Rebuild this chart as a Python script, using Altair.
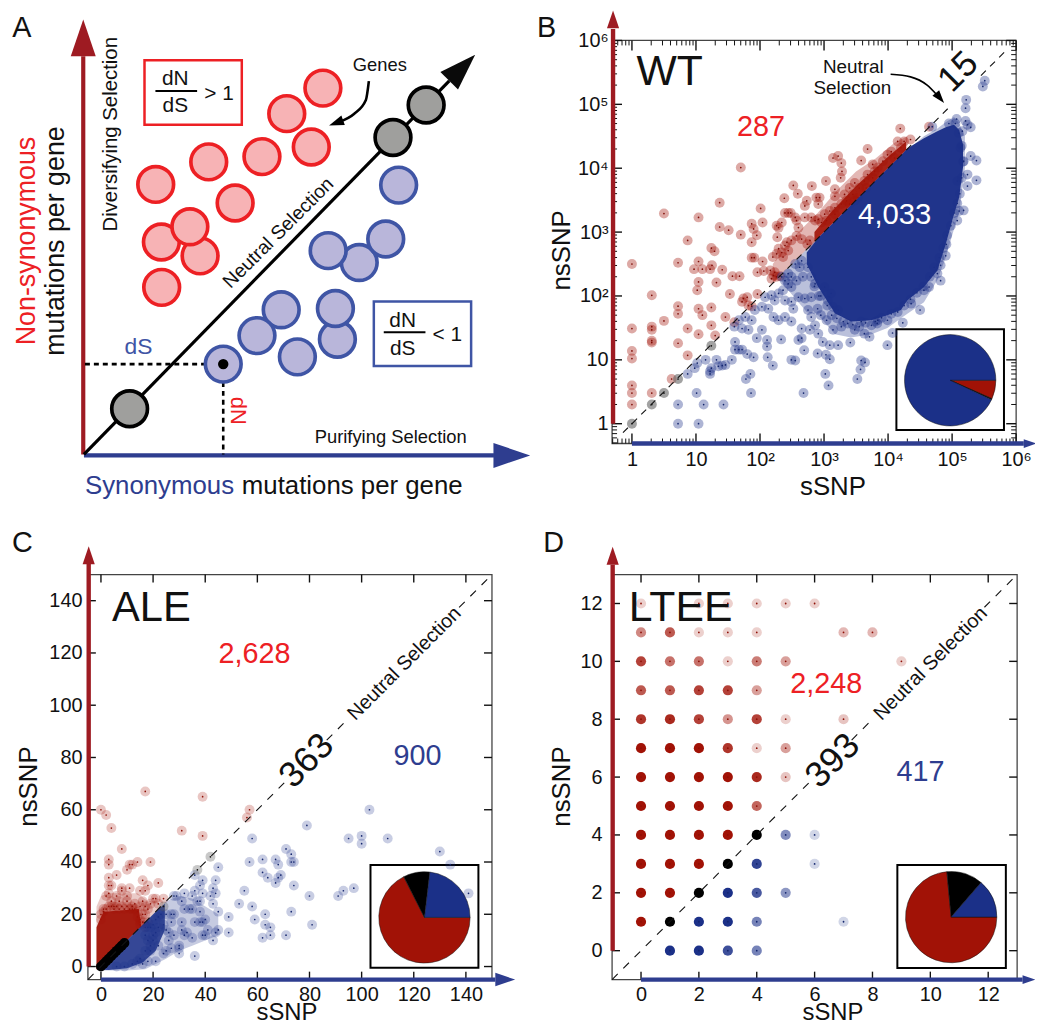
import math
import altair as alt
import pandas as pd

FONT = "Liberation Sans"
DARK_RED, DARK_BLUE = "#A11206", "#1B3088"
AXIS_RED, AXIS_BLUE = "#9E1B22", "#2E3D8F"
TXT_RED, TXT_BLUE = "#ED2024", "#2E3D8F"
HEAD = "M0,-1L-0.68,1L0.68,1Z"

# ---- Panel A: schematic positions
a_red_genes = [(324.7, 86), (288.3, 111.7), (313, 145.3), (263.3, 155), (209.7, 160.3), (156.3, 183),
               (236.3, 201.7), (201, 255), (162, 241), (190.7, 225.7), (162.3, 286.7)]
a_blue_genes = [(401, 183.7), (361.3, 261.7), (388, 238), (330, 249.7), (282.7, 309.3), (258.3, 335.3),
                (339.3, 339), (337.3, 308), (299, 356.7), (224.3, 364)]
a_grey_genes = [(130, 409), (395.3, 135.7), (428.7, 103)]
a_curve = [(371, 79), (368, 98), (356, 112), (341, 120)]

# ---- Panel B: log10(sSNP), log10(nsSNP)
b_red = [(0, 2.5), (0, 1.49), (0, 1.14), (0, 1.02), (0, .6), (0, .48), (0, .3), (.31, 2.01), (.31, 1.52), (.31, 1.47),
         (.31, 1.3), (.31, 1.27), (.31, .48), (.5, 3.29), (.5, 1.61), (.72, 2.52), (.72, 1.84), (.72, 1.72), (.72, 1.26),
         (.62, .7), (.87, 2.87), (.87, 1.49), (.87, 1.07), (1.04, 3.23), (1.04, 2.54), (.97, 2.42), (1.1, 2.42), (1.04, 2.22),
         (1.02, 2.09), (1.04, 1.8), (1.1, 1.7), (1.04, 1.4), (1.24, 2.75), (1.29, 2.7), (1.25, 2.48), (1.22, 2.42), (1.32, 2.21),
         (1.24, 1.82), (1.24, 1.54), (1.3, 1.38), (1.37, 3.46), (1.37, 3.08), (1.51, 3.03), (1.41, 2.41), (1.57, 2.31),
         (1.68, 2.31), (1.53, 2.03), (1.46, 1.67), (1.6, 1.59), (1.7, 4.01), (1.7, 2.96), (1.87, 3.13), (1.9, 3.05), (1.95, 2.95),
         (2.04, 3.15), (2.01, 3.37), (1.87, 2.84), (2.27, 2.92), (1.87, 2.6), (1.91, 2.6), (2.04, 2.54), (1.96, 2.37), (2.06, 2.39),
         (2.2, 2.61), (1.74, 1.96), (1.8, 1.98), (1.96, 2.03), (1.72, 1.91), (1.82, 1.85), (1.87, 1.84), (2.16, 2.4), (2.23, 2.37),
         (2.21, 2.32), (2.26, 2.3), (2.31, 2.31), (2.18, 2.27), (2.29, 3.07), (2.34, 3.15), (2.26, 3.1), (2.38, 3.53), (2.52, 3.73),
         (2.59, 3.6), (2.44, 3.3), (2.39, 3.3), (2.48, 3.3), (2.81, 3.72), (3.03, 3.8), (2.73, 3.49), (2.7, 3.41), (2.88, 3.54),
         (2.93, 3.54), (2.91, 3.44), (2.29, 2.74), (2.34, 2.68), (2.39, 2.79), (2.44, 2.71), (2.26, 2.66), (2.36, 2.61), (2.42, 2.84),
         (2.49, 2.87), (2.57, 2.94), (2.65, 2.89), (2.6, 3.07), (2.57, 3.18), (2.7, 3.23), (2.8, 3.23), (2.55, 3.23), (2.74, 2.81),
         (2.78, 2.87), (2.91, 3.2), (3.01, 3.28), (3.09, 3.33), (3.17, 3.38), (2.96, 3.15), (2.86, 3.18), (3.04, 3.18), (3.17, 3.28),
         (3.14, 4.16), (3.22, 4.19), (3.27, 4.08), (3.28, 3.95), (3.26, 3.85), (3.17, 3.67), (3.17, 3.56), (3.32, 3.59), (3.4, 3.69),
         (3.48, 3.77), (3.35, 3.49), (3.45, 3.59), (3.55, 3.69), (3.63, 3.8), (3.58, 4.12), (3.68, 4.3), (3.76, 4.06), (3.79, 3.95),
         (3.68, 3.9), (3.84, 4.01), (3.92, 4.11), (3.99, 4.21), (4.05, 4.26), (4.1, 4.16), (4.19, 4.62), (4.15, 4.42), (4.25, 4.42),
         (4.35, 4.45), (4.64, 4.65), (4.2, 4.32), (3.76, 3.85), (3.66, 3.69), (3.53, 3.54), (3.27, 3.44), (3.4, 3.44), (3.48, 3.49)]
b_blue = [(.72, 0), (1.04, 0), (.72, .3), (1.12, .3), (1.43, .3), (1.01, .48), (1.86, .48), (2.68, .48), (3.07, .6), (3.52, .7),
          (3.57, .85), (3.58, .99), (3.64, .96), (.87, .78), (.98, .87), (1.02, .95), (1.15, 1), (1.32, 1), (1.56, 1), (1.22, .82),
          (1.24, .87), (1.35, .9), (1.41, .91), (1.46, .92), (1.22, .78), (1.61, 1.28), (1.61, 1.16), (1.67, 1.16), (1.72, 1.16),
          (1.8, 1.09), (1.9, 1.04), (2.12, 1.04), (2.2, .91), (1.85, .78), (1.78, .7), (2.49, 1), (2.55, .99), (2.9, 1.1), (3.03, 1.08),
          (3.09, 1.01), (3.02, .78), (1.6, 1.52), (1.72, 1.49), (1.82, 1.47), (1.95, 1.34), (2.03, 1.47), (2.11, 1.31), (2.11, 1.21),
          (2.33, 1.32), (2.6, 1.31), (2.65, 1.34), (2.69, 1.15), (2.65, 1.49), (2.78, 1.47), (2.86, 1.54), (2.91, 1.41), (2.98, 1.28),
          (3.09, 1.23), (3.22, 1.23), (3.41, 1.27), (3.63, 1.41), (3.71, 1.36), (3.83, 1.57), (3.99, 1.23), (4.07, 1.42), (1.67, 1.62),
          (1.77, 1.67), (1.87, 1.62), (1.92, 1.78), (2.03, 1.83), (2.13, 1.8), (2.21, 1.67), (2.29, 1.62), (2.39, 1.67), (2.49, 1.6),
          (2.52, 1.8), (2.6, 1.98), (2.7, 1.96), (2.8, 1.98), (2.9, 1.8), (2.95, 1.7), (3.04, 1.62), (3.14, 1.47), (3.27, 1.52), (3.37, 1.57),
          (3.48, 1.47), (3.58, 1.6), (3.74, 1.54), (3.84, 1.62), (3.99, 1.62), (4.23, 1.58), (4.36, 1.88), (4.5, 1.78), (2.08, 1.98),
          (2.18, 2.01), (2.29, 2.04), (2.36, 2.09), (2.44, 2.19), (2.49, 2.14), (2.57, 2.24), (2.62, 2.45), (2.55, 2.5), (2.44, 2.35),
          (2.39, 2.24), (2.34, 2.3), (2.49, 2.3), (2.65, 2.55), (2.67, 2.3), (2.86, 2.19), (3.01, 2.14), (3.11, 2.04), (2.23, 1.93),
          (2.39, 1.93), (2.49, 1.91), (2.75, 1.78), (2.8, 1.67), (3.06, 1.93), (3.14, 1.83), (3.22, 1.78), (4.56, 2.09), (4.64, 2.14),
          (4.82, 2.24), (4.77, 2.35), (4.82, 2.48), (4.9, 2.63), (4.91, 2.81), (5.08, 3.18), (5.18, 3.34), (5.11, 3.33), (5.38, 3.81),
          (5.24, 3.72), (5.24, 3.9), (5.29, 4.19), (5.38, 4.12), (5.21, 4.94), (5.22, 5.07), (5.48, 5.28), (5.51, 5.37), (5.07, 4.77),
          (5.21, 4.74), (5.29, 4.64), (5.24, 4.68), (5.16, 4.58), (4.69, 4.65), (5.13, 4.32), (5.18, 4.11), (5.08, 3.8),
          (2.95, 2.0), (3.05, 1.85), (3.12, 1.7), (3.2, 1.65), (3.3, 1.6), (3.45, 1.55), (3.55, 1.52), (3.65, 1.58), (3.8, 1.6), (3.9, 1.66),
          (4.05, 1.72), (4.15, 1.75), (4.25, 1.85), (4.35, 1.95), (4.45, 2.05), (4.55, 2.15), (4.65, 2.3), (4.72, 2.45), (4.8, 2.6), (4.86, 2.75),
          (4.92, 2.95), (4.98, 3.1), (5.03, 3.3), (5.08, 3.45), (5.12, 3.6), (5.15, 3.85), (5.17, 4.1), (5.15, 4.35), (5.1, 4.55), (5.05, 4.7),
          (4.95, 4.7), (2.75, 2.45), (2.8, 2.3), (2.85, 2.15), (2.92, 2.0)]
b_grey = [(0, 0), (.31, .3), (.5, .48), (.72, .7), (1.24, 1.22)]
# dense clouds, as outlines of the solid regions: log10 sSNP, lower and upper log10 nsSNP
b_blue_s = [2.73, 2.91, 3.17, 3.42, 3.74, 3.99, 4.2, 4.3, 4.56, 4.77, 4.9, 5.03, 5.11, 5.17]
b_blue_hi = [2.68, 2.91, 3.17, 3.42, 3.74, 3.99, 4.2, 4.31, 4.47, 4.58, 4.64, 4.68, 4.6, 4.37]
b_blue_lo = [2.5, 2.14, 1.73, 1.6, 1.62, 1.7, 1.78, 1.93, 2.14, 2.4, 2.81, 3.28, 3.54, 4.01]
b_red_s = [2.85, 3.1, 3.5, 4.0, 4.28]
b_red_lo = [2.85, 3.1, 3.5, 4.0, 4.28]
b_red_hi = [3.0, 3.3, 3.72, 4.18, 4.42]
b_blue_fringe_s = [2.35, 2.6, 2.73, 2.91, 3.17, 3.42, 3.74, 3.99, 4.2, 4.56, 4.77, 4.9, 5.03, 5.11, 5.2]
b_blue_fringe_lo = [2.2, 1.9, 1.75, 1.7, 1.4, 1.35, 1.4, 1.5, 1.65, 1.9, 2.25, 2.6, 3.05, 3.3, 4.0]
b_blue_fringe_hi = [2.35, 2.6, 2.73, 2.91, 3.17, 3.42, 3.74, 3.99, 4.2, 4.5, 4.62, 4.72, 4.8, 4.7, 4.5]
b_red_fringe_s = [2.2, 2.5, 2.7, 2.9, 3.2, 3.5, 3.8, 4.1, 4.3]
b_red_fringe_lo = [2.2, 2.5, 2.7, 2.9, 3.2, 3.5, 3.8, 4.1, 4.3]
b_red_fringe_hi = [2.5, 2.9, 3.1, 3.3, 3.65, 3.95, 4.15, 4.4, 4.5]

# ---- Panel C: sSNP, nsSNP
c_red = [(0, 60), (2, 58), (4, 53), (8, 45), (17, 67), (39, 65), (31, 52), (39, 50), (57, 60), (56, 57), (3, 41), (3, 39), (10, 37),
         (11, 39), (12, 39), (14, 40), (19, 40), (3, 34), (6, 35), (16, 33), (22, 32), (3, 31), (4, 31), (18, 31), (2, 27), (8, 30),
         (11, 30), (8, 29), (15, 29), (17, 29), (4, 25), (7, 25), (10, 27), (20, 26), (21, 26), (24, 26), (10, 25), (16, 25), (1, 22),
         (5, 23), (16, 20), (17, 20), (15, 17), (3, 28), (6, 27), (12, 23), (13, 24), (15, 23), (17, 23), (18, 17), (16, 17), (17, 15),
         (19, 24), (22, 24), (18, 22), (0, 18), (0, 20), (1, 21), (2, 22), (3, 23), (4, 23), (5, 22), (6, 23), (7, 22), (8, 23), (9, 22),
         (10, 23), (11, 22), (12, 22), (13, 22), (14, 21), (14, 19), (15, 18), (15, 16)]
c_blue = [(103, 60), (79, 54), (58, 49), (95, 49), (100, 50), (100, 47), (110, 49), (71, 45), (73, 43), (74, 40), (73, 40), (67, 41),
          (68, 39), (62, 41), (57, 40), (62, 36), (64, 34), (68, 34), (69, 35), (67, 32), (74, 31), (55, 29), (80, 27), (91, 27), (93, 29),
          (97, 30), (130, 44), (134, 39), (141, 28), (53, 24), (58, 23), (73, 21), (63, 20), (59, 18), (81, 16), (63, 16), (65, 15), (62, 11),
          (65, 12), (71, 12), (45, 38), (39, 33), (44, 33), (38, 31), (43, 30), (36, 35), (36, 29), (39, 28), (42, 27), (44, 28), (28, 27),
          (29, 27), (32, 28), (35, 27), (37, 25), (38, 25), (43, 24), (31, 25), (32, 22), (34, 22), (35, 22), (38, 21), (45, 21), (49, 19),
          (25, 20), (27, 20), (28, 20), (31, 17), (27, 17), (36, 17), (38, 17), (39, 17), (40, 18), (41, 14), (45, 14), (44, 13), (49, 13),
          (39, 12), (40, 12), (31, 14), (32, 12), (33, 13), (35, 11), (43, 10), (24, 16), (25, 14), (26, 13), (28, 12), (30, 7), (30, 5),
          (30, 8), (36, 4), (16, 1), (18, 2), (21, 2), (25, 6), (22, 8), (20, 10), (21, 13), (19, 15), (22, 19), (22, 15), (26, 10), (27, 7),
          (19, 6), (24, 5), (17, 12), (18, 10), (20, 12), (19, 8), (17, 6), (15, 3), (12, 1), (9, 0), (6, 0), (14, 2), (20, 16), (18, 15),
          (21, 18), (23, 20)]
c_grey = [(37, 37), (42, 42), (24, 23)]
c_black = [(0, 0), (1, 1), (2, 2), (3, 3), (4, 4), (5, 5), (6, 6), (7, 7), (8, 8), (9, 9)]
c_red_s = [-1.7, 0, 1, 14.5, 15.5]
c_red_hi = [15, 19, 21, 22, 15]
c_red_lo = [-1, -1.3, 1, 14.5, 15]
c_blue_s = [0.5, 3, 10, 16, 21, 24.5]
c_blue_hi = [0.5, 3, 10, 16, 21, 24]
c_blue_lo = [-1.2, -1.3, -0.7, 1.5, 6, 14]
c_red_fringe_s = [-1.7, 0, 3, 14, 18, 22]
c_red_fringe_lo = [-1, -1, 3, 14, 18, 22]
c_red_fringe_hi = [23, 27, 28, 28, 25, 25]
c_blue_fringe_s = [1, 10, 17, 25, 30, 35, 45]
c_blue_fringe_lo = [-1.5, -1.5, -1, 3, 6, 8, 12]
c_blue_fringe_hi = [1, 10, 17, 25, 27, 26, 20]

# ---- Panel D: sSNP, nsSNP, density of overlapping genes
d_red = [(0, 12, .2), (2, 12, .2), (3, 12, .2), (4, 12, .2), (5, 12, .2), (6, 12, .2),
         (0, 11, .5), (1, 11, .7), (2, 11, .2), (3, 11, .2), (4, 11, .2), (7, 11, .3), (8, 11, .3),
         (0, 10, .8), (1, 10, .6), (2, 10, .6), (3, 10, .2), (4, 10, .55), (5, 10, .4), (9, 10, .2),
         (0, 9, .7), (1, 9, .7), (2, 9, .8), (3, 9, .8), (4, 9, .4),
         (0, 8, .85), (1, 8, .9), (2, 8, .8), (3, 8, .45), (4, 8, .8), (5, 8, .2), (7, 8, .25),
         (0, 7, 1), (1, 7, 1), (2, 7, 1), (3, 7, .85), (4, 7, .2), (5, 7, .4),
         (0, 6, 1), (1, 6, 1), (2, 6, 1), (3, 6, 1), (4, 6, .9), (5, 6, .25),
         (0, 5, 1), (1, 5, 1), (2, 5, 1), (3, 5, 1), (4, 5, .65),
         (0, 4, 1), (1, 4, 1), (2, 4, 1), (3, 4, 1), (0, 3, 1), (1, 3, 1), (2, 3, 1),
         (0, 2, 1), (1, 2, 1), (0, 1, 1)]
d_blue = [(5, 4, .55), (6, 4, .2), (4, 3, .9), (6, 3, .2), (3, 2, 1), (4, 2, .8), (5, 2, .5),
          (2, 1, 1), (3, 1, 1), (4, 1, .6), (7, 1, .2), (1, 0, 1), (2, 0, 1), (3, 0, .85), (4, 0, .6)]
d_black = [(1, 1, 1), (2, 2, 1), (3, 3, 1), (4, 4, 1)]

# ---- Pie counts
pie_kinds = ["nonsyn", "neutral", "syn"]
pie_colors = [DARK_RED, "#000000", DARK_BLUE]
pie_b = [287, 15, 4033]
pie_c = [2628, 363, 900]
pie_d = [2248, 393, 417]

c_ticks = [0, 20, 40, 60, 80, 100, 120, 140]
d_ticks = [0, 2, 4, 6, 8, 10, 12]
b_decades = [1, 10, 100, 1000, 10000, 100000, 1000000]
b_minor = [m * 10 ** k for k in range(-1, 6) for m in range(2, 10) if 0.49 < m * 10 ** k < 1e6]


def dec(v):
    return 10 ** v


def linear(dom):
    return alt.Scale(domain=dom, nice=False, zero=False, padding=0)


class Panel:
    """Shared layer helpers for one panel: its scales, axes and figure position."""

    def __init__(self, xscale, yscale, left, top, w, h, xf=lambda v: v, xaxis=None, yaxis=None):
        self.xs, self.ys, self.left, self.top, self.w, self.h, self.xf = xscale, yscale, left, top, w, h, xf
        self.xaxis, self.yaxis = xaxis, yaxis

    def X(self):
        return alt.X("s:Q", scale=self.xs, axis=self.xaxis)

    def Y(self):
        return alt.Y("n:Q", scale=self.ys, axis=self.yaxis)

    def points(self, pts):
        return pd.DataFrame({"s": [self.xf(p[0]) for p in pts], "n": [self.xf(p[1]) for p in pts]})

    def seg(self, x1, y1, x2, y2, color, width, dash=None):
        kw = {"strokeDash": dash} if dash else {}
        df = pd.DataFrame({"s": [self.xf(x1)], "n": [self.xf(y1)], "s2": [self.xf(x2)], "n2": [self.xf(y2)]})
        return alt.Chart(df).mark_rule(color=color, strokeWidth=width, **kw).encode(
            x=self.X(), y=self.Y(), x2="s2:Q", y2="n2:Q")

    def head(self, x, y, angle, size, color):
        return alt.Chart(self.points([(x, y)])).mark_point(shape=HEAD, filled=True, size=size ** 2, angle=angle,
                                                           color=color, opacity=1).encode(x=self.X(), y=self.Y())

    def scatter(self, pts, color, halo, dot=None, d=10, dot_d=1.7):
        df = self.points(pts)
        return [alt.Chart(df).mark_circle(size=d ** 2, color=color, opacity=halo).encode(x=self.X(), y=self.Y()),
                alt.Chart(df).mark_circle(size=dot_d ** 2, color=dot or color, opacity=1).encode(x=self.X(), y=self.Y())]

    def cloud(self, xs, lo, hi, color, opacity):
        df = pd.DataFrame({"s": [self.xf(v) for v in xs], "n": [self.xf(v) for v in lo], "n2": [self.xf(v) for v in hi]})
        return alt.Chart(df).mark_area(color=color, opacity=opacity, orient="vertical").encode(
            x=self.X(), y=self.Y(), y2="n2:Q")

    def note(self, text, x, y, size, color="#111111", angle=0, align="center"):
        # glyph centre sits above Vega's "middle" baseline by about 0.065 em
        nudge = 0.065 * size
        dx = {0: 0, 270: nudge, 90: -nudge, 315: nudge * .71}[angle]
        dy = {0: nudge, 270: 0, 90: 0, 315: nudge * .71}[angle]
        df = pd.DataFrame({"t": [text]})
        return alt.Chart(df).mark_text(font=FONT, fontSize=size, color=color, angle=angle, align=align,
                                       baseline="middle").encode(
            x=alt.value(x - self.left + dx), y=alt.value(y - self.top + dy), text="t:N")

    def frame(self, xdom, ydom):
        df = pd.DataFrame({"s": [xdom[0]], "n": [ydom[0]], "s2": [xdom[1]], "n2": [ydom[1]]})
        return alt.Chart(df).mark_rect(fillOpacity=0, stroke="#444444", strokeWidth=1.3).encode(
            x=self.X(), y=self.Y(), x2="s2:Q", y2="n2:Q")

    def xticks(self, vals, length, width=1.4):
        df = pd.DataFrame({"s": vals})
        base = alt.Chart(df).mark_rule(color="#111111", strokeWidth=width)
        return [base.encode(x=self.X(), y=alt.value(0), y2=alt.value(length)),
                base.encode(x=self.X(), y=alt.value(self.h), y2=alt.value(self.h - length))]

    def yticks(self, vals, length, width=1.4):
        df = pd.DataFrame({"n": vals})
        base = alt.Chart(df).mark_rule(color="#111111", strokeWidth=width)
        return [base.encode(y=self.Y(), x=alt.value(0), x2=alt.value(length)),
                base.encode(y=self.Y(), x=alt.value(self.w), x2=alt.value(self.w - length))]

    def inset(self, x1, y1, x2, y2, cx, cy, counts):
        box = pd.DataFrame({"s": [self.xf(x1)], "n": [self.xf(y1)], "s2": [self.xf(x2)], "n2": [self.xf(y2)]})
        rect = alt.Chart(box).mark_rect(fill="white", stroke="#000000", strokeWidth=2).encode(
            x=self.X(), y=self.Y(), x2="s2:Q", y2="n2:Q")
        pie = pd.DataFrame({"kind": pie_kinds, "count": counts, "rank": [0, 1, 2],
                            "s": [self.xf(cx)] * 3, "n": [self.xf(cy)] * 3})
        arc = alt.Chart(pie).mark_arc(radius=46, stroke="#111111", strokeWidth=0.5).encode(
            x=self.X(), y=self.Y(),
            theta=alt.Theta("count:Q", stack=True, scale=alt.Scale(range=[math.pi / 2, math.pi * 2.5])),
            color=alt.Color("kind:N", scale=alt.Scale(domain=pie_kinds, range=pie_colors), legend=None),
            order=alt.Order("rank:Q"))
        return [rect, arc]


def axis(vals, orient, title, tx, ty, padding, label_expr=None, title_size=26):
    kw = {"labelExpr": label_expr} if label_expr else {}
    return alt.Axis(values=vals, title=title, domain=False, ticks=False, tickSize=0, grid=False, labelFont=FONT,
                    labelFontSize=20, labelColor="#111111", labelPadding=padding, labelOverlap=False, labelFlush=False,
                    labelBound=False, titleFont=FONT, titleFontSize=title_size, titleFontWeight="normal", titleColor="#111111",
                    titleX=tx, titleY=ty, titleBaseline="middle", titleAlign="center", orient=orient, **kw)


# ================= Panel A =================
pa = Panel(linear([88, 495]), linear([444, 38]), 88, 38, 407, 406)
a_layers = [
    pa.seg(83.3, 455, 83.3, 54, AXIS_RED, 4.2), pa.head(83.3, 35.5, 0, 37, AXIS_RED),
    pa.seg(84, 456, 497, 456, AXIS_BLUE, 4.2), pa.head(515, 456, 90, 37, AXIS_BLUE),
    pa.seg(84, 455, 452, 78.7, "#000000", 3.2), pa.head(465, 65.5, 45, 37, "#0A0A0A"),
    pa.seg(85, 364, 224, 364, "#000000", 2.6, [5, 4]), pa.seg(224.3, 364, 224.3, 455, "#000000", 2.6, [5, 4]),
]
a_layers.append(alt.Chart(pa.points(a_red_genes)).mark_circle(size=1296, fill="#F7B3B5", stroke="#ED2024", strokeWidth=3.7,
                                                              opacity=1).encode(x=pa.X(), y=pa.Y()))
a_layers.append(alt.Chart(pa.points(a_blue_genes)).mark_circle(size=1296, fill="#B9B6DA", stroke="#3F55A5", strokeWidth=3.7,
                                                               opacity=1).encode(x=pa.X(), y=pa.Y()))
a_layers.append(alt.Chart(pa.points(a_grey_genes)).mark_circle(size=1296, fill="#9F9F9D", stroke="#000000", strokeWidth=3.7,
                                                               opacity=1).encode(x=pa.X(), y=pa.Y()))
a_layers.append(alt.Chart(pa.points([(224.3, 364)])).mark_circle(size=110, color="#000000", opacity=1).encode(x=pa.X(), y=pa.Y()))
curve_df = pa.points(a_curve).assign(i=range(len(a_curve)))
a_layers.append(alt.Chart(curve_df).mark_line(color="#000000", strokeWidth=2.6, interpolate="monotone").encode(
    x=pa.X(), y=pa.Y(), order=alt.Order("i:Q")))
a_layers.append(pa.head(338, 121, 250, 15, "#000000"))
for box, col in [((145, 58, 243, 123), "#ED2024"), ((376, 301, 474, 366), "#3F55A5")]:
    df = pd.DataFrame({"s": [box[0]], "n": [box[1]], "s2": [box[2]], "n2": [box[3]]})
    a_layers.append(alt.Chart(df).mark_rect(fillOpacity=0, stroke=col, strokeWidth=2.5).encode(
        x=pa.X(), y=pa.Y(), x2="s2:Q", y2="n2:Q"))
a_layers += [pa.seg(156, 89, 198, 89, "#000000", 2), pa.seg(386, 332, 428, 332, "#000000", 2)]
a_layers += [
    pa.note("A", 21.5, 24, 29),
    pa.note("Non-synonymous", 25, 240, 27, TXT_RED, 270),
    pa.note("mutations per gene", 54, 240, 27, "#111111", 270),
    pa.note("Diversifying Selection", 110, 132.5, 20.5, "#111111", 270),
    pa.note("Neutral Selection", 279, 231, 19.5, "#111111", 315),
    pa.note("Genes", 382, 62, 18.5),
    pa.note("Purifying Selection", 393, 436, 18.5),
    pa.note("Synonymous", 85, 485, 26, TXT_BLUE, 0, "left"),
    pa.note("mutations per gene", 243, 485, 26, "#111111", 0, "left"),
    pa.note("dS", 139, 345, 23, "#3F55A5"),
    pa.note("dN", 241, 411, 22, TXT_RED, 90),
    pa.note("dN", 176, 76, 21), pa.note("dS", 176, 103, 21), pa.note("> 1", 220, 91, 21),
    pa.note("dN", 405, 319, 21), pa.note("dS", 405, 347, 21), pa.note("< 1", 450, 333, 21),
]
panel_a = alt.layer(*a_layers).properties(width=407, height=406)

# ================= Panel B =================
b_dom = [10 ** -0.31, 1e6]
sup = "datum.value==1?'1':datum.value==10?'10':'10'+['','','²','³','⁴','⁵','⁶'][round(log(datum.value)/LN10)]"
pb = Panel(alt.Scale(type="log", domain=b_dom, nice=False, padding=0), alt.Scale(type="log", domain=b_dom, nice=False, padding=0),
           616, 38, 407, 406, dec, axis(b_decades, "bottom", "sSNP", 222, 43, 6, sup), axis(b_decades, "left", "nsSNP", -51, 211, 4, sup))
b_layers = [pb.frame(b_dom, b_dom)]
b_layers += pb.inset(4.13, -.10, 5.81, 1.48, 4.97, .68, pie_b)
b_layers += pb.scatter(b_red, DARK_RED, .36, "#7E0C05")
b_layers.append(pb.cloud(b_red_fringe_s, b_red_fringe_lo, b_red_fringe_hi, DARK_RED, .3))
b_layers.append(pb.cloud(b_red_s, b_red_lo, b_red_hi, DARK_RED, .9))
b_layers += pb.scatter(b_blue, DARK_BLUE, .36, "#14266E")
b_layers.append(pb.cloud(b_blue_fringe_s, b_blue_fringe_lo, b_blue_fringe_hi, DARK_BLUE, .3))
b_layers.append(pb.cloud(b_blue_s, b_blue_lo, b_blue_hi, DARK_BLUE, .97))
b_layers += pb.scatter(b_grey, "#555555", .55, "#111111")
b_layers += pb.xticks(b_decades, 10) + pb.yticks(b_decades, 10) + pb.xticks(b_minor, 5, 1) + pb.yticks(b_minor, 5, 1)
b_layers += [pb.seg(-.14, -.14, 4.95, 4.95, "#111111", 1.1, [7, 6]), pb.seg(5.45, 5.45, 5.86, 5.86, "#111111", 1.1, [7, 6])]
b_layers += [pb.seg(-.295, 0, -.295, 6.18, AXIS_RED, 4.4), pb.head(-.295, 6.33, 0, 18, AXIS_RED),
             pb.seg(0, -.31, 6.12, -.31, AXIS_BLUE, 4.4), pb.head(6.22, -.31, 90, 13, AXIS_BLUE)]
b_curve = pd.DataFrame({"s": [dec(v) for v in [4.04, 4.35, 4.61, 4.76]], "n": [dec(v) for v in [5.47, 5.43, 5.3, 5.15]], "i": [0, 1, 2, 3]})
b_layers.append(alt.Chart(b_curve).mark_line(color="#000000", strokeWidth=1.6, interpolate="monotone").encode(
    x=pb.X(), y=pb.Y(), order=alt.Order("i:Q")))
b_layers.append(pb.head(4.81, 5.1, 140, 13, "#000000"))
b_layers += [pb.note("B", 550, 24, 29), pb.note("WT", 674, 67, 43), pb.note("287", 766, 123, 29, TXT_RED),
             pb.note("4,033", 900.7, 212, 29.5, "#FFFFFF"), pb.note("15", 963, 68, 36, "#111111", 315),
             pb.note("Neutral", 859, 64, 19), pb.note("Selection", 858, 85, 19)]
panel_b = alt.layer(*b_layers).properties(width=407, height=406)

# ================= Panel C =================
c_dom = [-5, 150]
pc = Panel(linear(c_dom), linear(c_dom), 88, 574, 407, 408,
           lambda v: v, axis(c_ticks, "bottom", "sSNP", 200, 33, 5, None, 24), axis(c_ticks, "left", "nsSNP", -60, 213, 6))
c_layers = [pc.frame(c_dom, c_dom)]
c_layers += pc.inset(103.4, -.5, 144.8, 38.9, 124.1, 18.8, pie_c)
c_layers += pc.scatter(c_red, DARK_RED, .24, "#8E0F05")
c_layers.append(pc.cloud(c_red_fringe_s, c_red_fringe_lo, c_red_fringe_hi, DARK_RED, .22))
c_layers.append(pc.cloud(c_red_s, c_red_lo, c_red_hi, DARK_RED, .95))
c_layers += pc.scatter(c_blue, DARK_BLUE, .24, "#14266E")
c_layers.append(pc.cloud(c_blue_fringe_s, c_blue_fringe_lo, c_blue_fringe_hi, DARK_BLUE, .25))
c_layers.append(pc.cloud(c_blue_s, c_blue_lo, c_blue_hi, DARK_BLUE, .85))
c_layers += pc.scatter(c_grey, "#555555", .32, "#111111")
c_layers += pc.scatter(c_black, "#000000", 1)
c_layers += pc.xticks(c_ticks, 8) + pc.yticks(c_ticks, 8)
c_layers += [pc.seg(-5, -5, 70.3, 70.3, "#111111", 1.1, [8, 8]), pc.seg(86.6, 86.6, 94.2, 94.2, "#111111", 1.1, [8, 8]),
             pc.seg(137.4, 137.4, 150, 150, "#111111", 1.1, [8, 8])]
c_layers += [pc.seg(-4.7, 0, -4.7, 154, AXIS_RED, 4.4), pc.head(-4.7, 157.4, 0, 18, AXIS_RED),
             pc.seg(0, -5, 151.3, -5, AXIS_BLUE, 4.4), pc.head(155.1, -5, 90, 20, AXIS_BLUE)]
c_layers += [pc.note("C", 22, 540, 29), pc.note("ALE", 152, 605, 42), pc.note("2,628", 255.7, 652.7, 29, TXT_RED),
             pc.note("900", 420, 755, 29, TXT_BLUE), pc.note("363", 306.7, 760, 36, "#111111", 315),
             pc.note("Neutral Selection", 406, 662.7, 20, "#111111", 315)]
panel_c = alt.layer(*c_layers).properties(width=407, height=408)

# ================= Panel D =================
d_dom = [-1, 13]
pd_ = Panel(linear(d_dom), linear(d_dom), 616, 574, 408, 408,
            lambda v: v, axis(d_ticks, "bottom", "sSNP", 222, 33, 5, None, 24), axis(d_ticks, "left", "nsSNP", -51, 213, 10))


def grid_points(rows, color, dot):
    df = pd.DataFrame(rows, columns=["s", "n", "share"])
    return [alt.Chart(df).mark_circle(size=105, color=color).encode(x=pd_.X(), y=pd_.Y(), opacity=alt.Opacity("share:Q", scale=None, legend=None)),
            alt.Chart(df).mark_circle(size=3.2, color=dot, opacity=1).encode(x=pd_.X(), y=pd_.Y())]


d_layers = [pd_.frame(d_dom, d_dom)]
d_layers += pd_.inset(8.86, -.6, 12.61, 2.96, 10.72, 1.16, pie_d)
d_layers += grid_points(d_red, DARK_RED, "#8E0F05") + grid_points(d_blue, DARK_BLUE, "#14266E") + grid_points(d_black, "#000000", "#000000")
d_layers += pd_.xticks(d_ticks, 8) + pd_.yticks(d_ticks, 8)
d_layers += [pd_.seg(-1, -1, 5.81, 5.81, "#111111", 1.1, [8, 8]), pd_.seg(7.28, 7.28, 7.97, 7.97, "#111111", 1.1, [8, 8]),
             pd_.seg(11.87, 11.87, 13, 13, "#111111", 1.1, [8, 8])]
d_layers += [pd_.seg(-.98, 0, -.98, 13.34, AXIS_RED, 4.4), pd_.head(-.98, 13.65, 0, 18, AXIS_RED),
             pd_.seg(0, -1, 13.19, -1, AXIS_BLUE, 4.4), pd_.head(13.41, -1, 90, 13, AXIS_BLUE)]
d_layers += [pd_.note("D", 557, 540, 29), pd_.note("LTEE", 685, 605, 43), pd_.note("2,248", 831.7, 682.7, 29, TXT_RED),
             pd_.note("417", 926.7, 770.7, 29, TXT_BLUE), pd_.note("393", 836.7, 760, 36, "#111111", 315),
             pd_.note("Neutral Selection", 936, 662.7, 20, "#111111", 315)]
panel_d = alt.layer(*d_layers).properties(width=408, height=408)

chart = alt.concat(panel_a, panel_b, panel_c, panel_d, columns=2, spacing={"row": 132, "column": 121}, bounds="flush",
                   padding={"left": 3.5, "top": -2, "right": -2, "bottom": -7}).configure_view(strokeWidth=0)
chart.save("out.html", embed_options={"renderer": "svg", "actions": False})
